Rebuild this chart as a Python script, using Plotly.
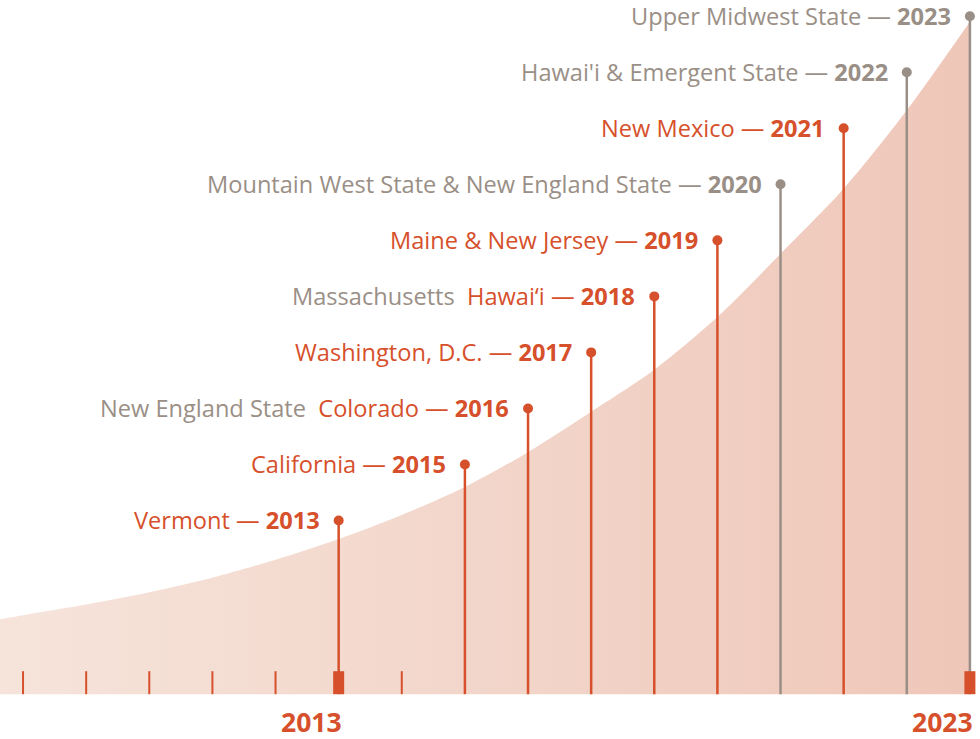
import plotly.graph_objects as go

# ---- data ----
years = [2013, 2015, 2016, 2017, 2018, 2019, 2020, 2021, 2022, 2023]
levels = [3.1, 4.1, 5.1, 6.1, 7.1, 8.1, 9.1, 10.1, 11.1, 12.1]
gray_names = ["", "", "New England State", "", "Massachusetts", "",
              "Mountain West State & New England State", "",
              "Hawai'i & Emergent State", "Upper Midwest State"]
orange_names = ["Vermont", "California", "Colorado", "Washington, D.C.", "Hawai\u2018i",
                "Maine & New Jersey", "", "New Mexico", "", ""]

curve_years = [2007.6, 2008, 2009, 2010, 2011, 2012, 2013, 2014, 2015, 2016,
               2017, 2018, 2019, 2020, 2021, 2022, 2023]
curve_vals = [1.33, 1.41, 1.60, 1.82, 2.08, 2.40, 2.77, 3.20, 3.70, 4.32,
              5.04, 5.79, 6.73, 7.86, 9.02, 10.42, 12.0]

minor_years = [2008, 2009, 2010, 2011, 2012, 2014]
major_years = [2013, 2023]
axis_labels = ["2013", "2023"]

ORANGE = "#d6502b"
GRAY = "#9a8f86"
FONT = "Open Sans"

fig = go.Figure()

# growth curve
fig.add_trace(go.Scatter(
    x=curve_years, y=curve_vals, mode="lines",
    line=dict(width=0, shape="spline", smoothing=0.8),
    fill="tozeroy",
    fillgradient=dict(type="horizontal",
                      colorscale=[[0, "#f6e4db"], [1, "#efc7b9"]]),
    hoverinfo="skip", showlegend=False))

# minor ticks
tx, ty = [], []
for yv in minor_years:
    tx += [yv, yv, None]
    ty += [0, 0.41, None]
fig.add_trace(go.Scatter(x=tx, y=ty, mode="lines", line=dict(color=ORANGE, width=2),
                         hoverinfo="skip", showlegend=False))

# stems
for yr, lv, g, o in zip(years, levels, gray_names, orange_names):
    col = ORANGE if o else GRAY
    fig.add_trace(go.Scatter(x=[yr, yr], y=[0, lv], mode="lines",
                             line=dict(color=col, width=2.5),
                             hoverinfo="skip", showlegend=False))
    fig.add_trace(go.Scatter(x=[yr], y=[lv], mode="markers",
                             marker=dict(color=col, size=10),
                             hoverinfo="skip", showlegend=False))
    parts = []
    if g:
        parts.append(f'<span style="color:{GRAY}">{g}</span>')
    if o:
        if g:
            parts.append("&nbsp;&nbsp;")
        parts.append(f'<span style="color:{ORANGE}">{o}</span>')
    parts.append(f'<span style="color:{col}"> \u2014 <b>{yr}</b></span>')
    fig.add_annotation(x=yr, y=lv, xref="x", yref="y", text="".join(parts),
                       showarrow=False, xanchor="right", yanchor="middle",
                       xshift=-17, font=dict(family=FONT, size=23.6, color=col))

# major markers (drawn above stems)
mx, my = [], []
for yv in major_years:
    mx += [yv, yv, None]
    my += [0, 0.41, None]
fig.add_trace(go.Scatter(x=mx, y=my, mode="lines", line=dict(color=ORANGE, width=11),
                         hoverinfo="skip", showlegend=False))

# axis year labels
for yr, lab in zip(major_years, axis_labels):
    fig.add_annotation(x=yr, y=-0.50, xref="x", yref="y", text=f"<b>{lab}</b>",
                       showarrow=False, xanchor="right", yanchor="middle",
                       xshift=4, borderpad=0,
                       font=dict(family=FONT, size=26.5, color=ORANGE))

fig.update_layout(
    width=980, height=739, margin=dict(l=0, r=0, t=0, b=0),
    paper_bgcolor="white", plot_bgcolor="white",
    xaxis=dict(range=[2007.635, 2023.16], visible=False, fixedrange=True),
    yaxis=dict(range=[-0.80, 12.39], visible=False, fixedrange=True),
)

fig.write_html("out.html", config={"displayModeBar": False})

with open("out.html", encoding="utf-8") as f:
    html = f.read()
html = html.replace("<head>", "<head><style>html,body{margin:0;padding:0;overflow:hidden;}</style>", 1)
with open("out.html", "w", encoding="utf-8") as f:
    f.write(html)
